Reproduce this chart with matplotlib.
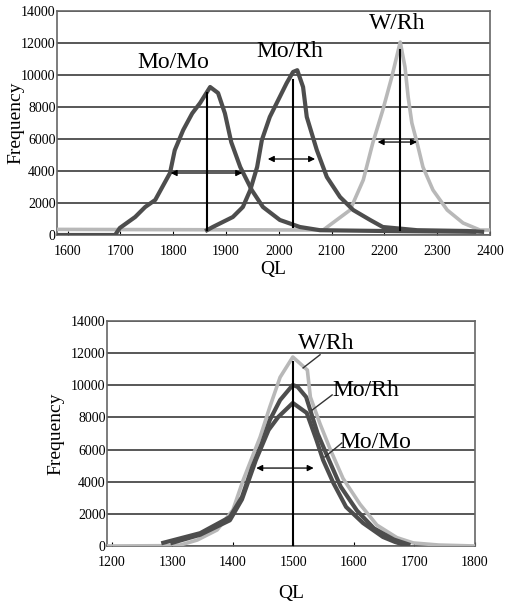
import numpy as np
import matplotlib
matplotlib.use("Agg")
import matplotlib.pyplot as plt

plt.rcParams['font.family'] = ['Liberation Serif', 'DejaVu Serif']

# ---- top panel data (QL, frequency) ----
top_momo_x = [1580, 1690, 1699, 1728, 1747, 1766, 1794, 1803, 1819, 1836, 1851, 1870, 1885, 1898,
              1910, 1927, 1949, 1970, 2002, 2040, 2078, 2200, 2370]
top_momo_y = [0, 0, 440, 1125, 1750, 2190, 3875, 5300, 6560, 7600, 8250, 9250, 8875, 7600,
              5800, 4250, 2800, 1750, 940, 500, 300, 250, 200]

top_morh_x = [1864, 1875, 1913, 1932, 1946, 1959, 1968, 1983, 1999, 2015, 2027, 2035, 2046, 2053,
              2072, 2091, 2116, 2141, 2173, 2197, 2262, 2357, 2385]
top_morh_y = [300, 500, 1125, 1750, 2810, 4250, 5940, 7380, 8440, 9500, 10190, 10300, 9250, 7380,
              5310, 3625, 2375, 1560, 940, 500, 300, 250, 200]

top_wrh_x = [1580, 2084, 2135, 2160, 2178, 2197, 2214, 2230, 2239, 2245, 2252, 2262, 2273, 2292,
             2319, 2349, 2381, 2400]
top_wrh_y = [350, 310, 1560, 3440, 5750, 7810, 9875, 12060, 10500, 8625, 7000, 5750, 4250, 2810,
             1560, 750, 310, 310]

top_peaks = [1864, 2027, 2230]
top_peak_lo = [300, 500, 300]
top_peak_hi = [8900, 9700, 11560]
top_fwhm_y = [3875, 4750, 5810]
top_fwhm_lo = [1790, 1974, 2182]
top_fwhm_hi = [1936, 2074, 2267]
top_names = ["Mo/Mo", "Mo/Rh", "W/Rh"]
top_name_x = [1800, 2021, 2224]
top_name_y = [10810, 11440, 13250]

# ---- bottom panel data ----
bot_wrh_x = [1192, 1290, 1313, 1341, 1374, 1400, 1417, 1432, 1445, 1461, 1478, 1499, 1523, 1528,
             1544, 1561, 1582, 1610, 1638, 1671, 1698, 1740, 1800]
bot_wrh_y = [0, 20, 60, 370, 1000, 2240, 4100, 5540, 6780, 8650, 10500, 11760, 10950, 9270,
             7600, 6000, 4200, 2600, 1300, 520, 190, 60, 0]

bot_morh_x = [1285, 1346, 1395, 1415, 1432, 1448, 1461, 1478, 1499, 1507, 1521, 1540, 1557, 1578,
              1605, 1633, 1666, 1690]
bot_morh_y = [200, 800, 1800, 3050, 4920, 6400, 7840, 9080, 10020, 9900, 9270, 7000, 5500, 3700,
              2200, 1100, 400, 100]

bot_momo_x = [1300, 1346, 1395, 1415, 1438, 1459, 1475, 1499, 1522, 1538, 1549, 1566, 1587, 1615,
              1648, 1668, 1685]
bot_momo_y = [200, 700, 1600, 2900, 5350, 7220, 8030, 8900, 8280, 6600, 5350, 3920, 2430, 1430,
              560, 250, 50]

bot_peak = 1500
bot_peak_hi = 11450
bot_fwhm_y = 4850
bot_fwhm_lo = 1434
bot_fwhm_hi = 1538
bot_names = ["W/Rh", "Mo/Rh", "Mo/Mo"]
bot_name_x = [1554, 1620, 1636]
bot_name_y = [12630, 9700, 6470]
bot_lead_x0 = [1516, 1531, 1552]
bot_lead_y0 = [11080, 8460, 5540]
bot_lead_x1 = [1544, 1564, 1580]
bot_lead_y1 = [11900, 9400, 6410]

dark = '#4d4d4d'
light = '#b8b8b8'

fig = plt.figure(figsize=(5.07, 6.05), dpi=100)
W, H = 507, 605
ax1 = fig.add_axes([57 / W, 1 - 235 / H, 433 / W, 224 / H])
ax2 = fig.add_axes([107 / W, 1 - 546 / H, 368 / W, 225 / H])


def style(ax, xlim, xticks):
    ax.set_xlim(*xlim)
    ax.set_ylim(0, 14000)
    ax.set_yticks(np.arange(0, 14001, 2000))
    ax.set_xticks(xticks)
    ax.grid(axis='y', color='#2a2a2a', lw=1.1)
    ax.set_axisbelow(True)
    for s in ax.spines.values():
        s.set_color('#666666')
        s.set_linewidth(1.2)
    ax.tick_params(axis='y', length=0, pad=1, labelsize=10)
    ax.tick_params(axis='x', direction='in', length=3, pad=7, labelsize=10)
    ax.set_ylabel("Frequency", fontsize=14)
    ax.set_xlabel("QL", fontsize=14)


style(ax1, (1580, 2400), np.arange(1600, 2401, 100))
ax1.plot(top_wrh_x, top_wrh_y, color=light, lw=2.6, zorder=3)
ax1.plot(top_momo_x, top_momo_y, color=dark, lw=3, zorder=4)
ax1.plot(top_morh_x, top_morh_y, color=dark, lw=3, zorder=4)
for i in range(3):
    ax1.plot([top_peaks[i], top_peaks[i]], [top_peak_lo[i], top_peak_hi[i]], color='black', lw=1.5, zorder=5)
    ax1.annotate("", xy=(top_fwhm_lo[i], top_fwhm_y[i]), xytext=(top_fwhm_hi[i], top_fwhm_y[i]),
                 arrowprops=dict(arrowstyle='<|-|>', color='black', lw=0.9, mutation_scale=9), zorder=6)
    ax1.text(top_name_x[i], top_name_y[i], top_names[i], fontsize=17, ha='center', va='center')
ax1.yaxis.set_label_coords(-0.075, 0.5)
ax1.xaxis.set_label_coords(0.5, -0.115)

style(ax2, (1192, 1800), np.arange(1200, 1801, 100))
ax2.plot(bot_wrh_x, bot_wrh_y, color=light, lw=2.6, zorder=3)
ax2.plot(bot_morh_x, bot_morh_y, color=dark, lw=3, zorder=4)
ax2.plot(bot_momo_x, bot_momo_y, color=dark, lw=3, zorder=4)
ax2.plot([bot_peak, bot_peak], [0, bot_peak_hi], color='black', lw=1.5, zorder=5)
ax2.annotate("", xy=(bot_fwhm_lo, bot_fwhm_y), xytext=(bot_fwhm_hi, bot_fwhm_y),
             arrowprops=dict(arrowstyle='<|-|>', color='black', lw=0.9, mutation_scale=9), zorder=6)
for i in range(3):
    ax2.text(bot_name_x[i], bot_name_y[i], bot_names[i], fontsize=17, ha='center', va='center')
    ax2.plot([bot_lead_x0[i], bot_lead_x1[i]], [bot_lead_y0[i], bot_lead_y1[i]], color='#333333', lw=1, zorder=6)
ax2.yaxis.set_label_coords(-0.115, 0.5)
ax2.xaxis.set_label_coords(0.5, -0.175)

fig.savefig("out.png", dpi=100)
